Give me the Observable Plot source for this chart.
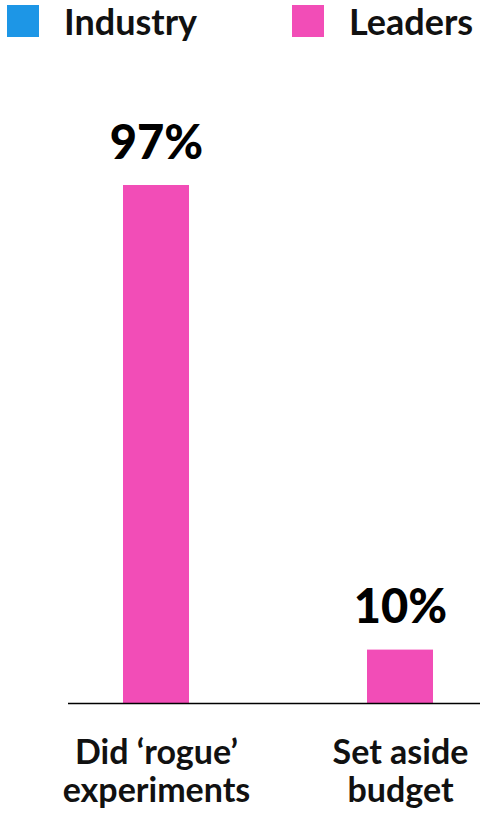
<!DOCTYPE html>
<html>
<head>
<meta charset="utf-8">
<script src="https://cdn.jsdelivr.net/npm/d3@7"></script>
<script src="https://cdn.jsdelivr.net/npm/@observablehq/plot@0.6"></script>
<style>
  html, body { margin: 0; padding: 0; background: #fff; }
  #wrap { position: relative; width: 480px; height: 817px; overflow: hidden; }
  #legend { position: absolute; left: 0; top: 0; width: 480px; height: 44px; font-family: Lato, sans-serif; font-weight: 700; font-size: 36px; color: #111; }
  .item { position: absolute; top: 0; display: flex; align-items: center; height: 42px; }
  .sw { width: 32px; height: 32px; margin-right: 25px; }
</style>
</head>
<body>
<div id="wrap">
  <div id="legend"></div>
  <div id="chart"></div>
</div>
<script>
const categories = ["Did ‘rogue’ experiments", "Set aside budget"];
const tickLabels = ["Did ‘rogue’\nexperiments", "Set aside\nbudget"];
const leaders = [97, 10];
const seriesNames = ["Industry", "Leaders"];
const seriesColors = ["#1D96E6", "#F24DB7"];

const data = categories.map((c, i) => ({category: c, value: leaders[i]}));

const legend = document.getElementById("legend");
const legendLeft = [7, 292];
seriesNames.forEach((n, i) => {
  const it = document.createElement("div");
  it.className = "item";
  it.style.left = legendLeft[i] + "px";
  const sw = document.createElement("div");
  sw.className = "sw";
  sw.style.background = seriesColors[i];
  const t = document.createElement("span");
  t.textContent = n;
  it.appendChild(sw); it.appendChild(t);
  legend.appendChild(it);
});

const chart = Plot.plot({
  width: 480,
  height: 817,
  marginLeft: 68,
  marginRight: 0,
  marginTop: 185,
  marginBottom: 114,
  style: {fontFamily: "Lato, sans-serif", background: "transparent"},
  x: {domain: categories, paddingInner: 0.7295, paddingOuter: 0.209, align: 0.54, label: null},
  y: {domain: [0, 97], axis: null},
  marks: [
    Plot.barY(data, {x: "category", y: "value", fill: seriesColors[1]}),
    Plot.ruleY([0], {stroke: "#000", strokeWidth: 1.6}),
    Plot.text(data, {x: "category", y: "value", text: d => d.value + "%", dy: -27, lineAnchor: "bottom", fontSize: 47, fontWeight: 900, fill: "#000"}),
    Plot.axisX({tickSize: 0, tickPadding: 33, fontSize: 34, fontWeight: 700, fill: "#111", lineHeight: 1.13, tickFormat: (d, i) => tickLabels[categories.indexOf(d)], label: null})
  ]
});
document.getElementById("chart").appendChild(chart);
</script>
</body>
</html>
